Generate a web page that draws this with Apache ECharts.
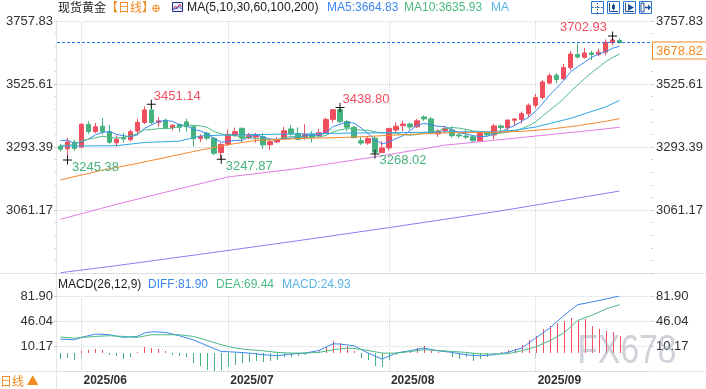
<!DOCTYPE html>
<html><head><meta charset="utf-8">
<script src="https://cdn.jsdelivr.net/npm/echarts@6/dist/echarts.min.js"></script>
<style>html,body{margin:0;padding:0;background:#fff}#c{width:706px;height:389px}</style>
</head><body><div id="c"></div>
<script>
// ---------- data ----------
const dates = [
'2025-05-28','2025-05-29','2025-05-30',
'2025-06-02','2025-06-03','2025-06-04','2025-06-05','2025-06-06','2025-06-09','2025-06-10','2025-06-11','2025-06-12','2025-06-13','2025-06-16','2025-06-17','2025-06-18','2025-06-19','2025-06-20','2025-06-23','2025-06-24','2025-06-25','2025-06-26','2025-06-27','2025-06-30',
'2025-07-01','2025-07-02','2025-07-03','2025-07-04','2025-07-07','2025-07-08','2025-07-09','2025-07-10','2025-07-11','2025-07-14','2025-07-15','2025-07-16','2025-07-17','2025-07-18','2025-07-21','2025-07-22','2025-07-23','2025-07-24','2025-07-25','2025-07-28','2025-07-29','2025-07-30','2025-07-31',
'2025-08-01','2025-08-04','2025-08-05','2025-08-06','2025-08-07','2025-08-08','2025-08-11','2025-08-12','2025-08-13','2025-08-14','2025-08-15','2025-08-18','2025-08-19','2025-08-20','2025-08-21','2025-08-22','2025-08-25','2025-08-26','2025-08-27','2025-08-28','2025-08-29',
'2025-09-01','2025-09-02','2025-09-03','2025-09-04','2025-09-05','2025-09-08','2025-09-09','2025-09-10','2025-09-11','2025-09-12','2025-09-15','2025-09-16','2025-09-17',
'2025-09-18','2025-09-19','2025-09-22','2025-09-23'];

// [open, close, low, high]
const candles = [
[3296,3285,3276,3305],[3287,3312,3245.38,3328],[3311,3288,3279,3320],[3293,3377,3288,3382],[3377,3350,3342,3388],
[3350,3368,3344,3382],[3370,3350,3340,3400],[3350,3311,3305,3374],[3309,3322,3296,3337],[3328,3323,3310,3345],
[3320,3350,3315,3358],[3352,3384,3338,3398],[3384,3430,3378,3443],[3430,3384,3378,3451.14],[3384,3390,3368,3404],
[3392,3364,3360,3398],[3365,3373,3355,3378],[3376,3366,3348,3381],[3386,3368,3350,3398],[3368,3324,3296,3372],
[3325,3332,3312,3340],[3344,3326,3318,3350],[3326,3270,3264,3329],[3273,3303,3247.87,3308],[3303,3340,3298,3358],
[3336,3350,3331,3365],[3362,3326,3312,3366],[3327,3336,3322,3345],[3330,3338,3310,3346],[3331,3301,3287,3345],
[3302,3313,3283,3318],[3312,3320,3308,3330],[3324,3353,3320,3368],[3360,3342,3335,3374],[3343,3322,3318,3366],
[3330,3340,3320,3377],[3340,3330,3310,3352],[3336,3346,3330,3360],[3346,3395,3342,3402],[3395,3431,3383,3433],
[3431,3387,3382,3438.80],[3387,3366,3351,3394],[3366,3328,3325,3372],[3316,3308,3301,3330],[3308,3325,3302,3334],
[3326,3274,3268.02,3334],[3273,3290,3271,3315],[3290,3362,3281,3363],[3356,3370,3346,3385],[3372,3378,3352,3390],
[3378,3367,3358,3384],[3368,3390,3364,3398],[3404,3397,3390,3410],[3397,3345,3340,3405],[3342,3350,3331,3360],
[3354,3362,3345,3370],[3356,3335,3328,3370],[3338,3334,3325,3344],[3334,3330,3323,3358],[3331,3316,3313,3336],
[3316,3345,3312,3350],[3345,3338,3332,3352],[3338,3371,3322,3378],[3371,3365,3352,3376],[3365,3393,3351,3393],
[3392,3397,3374,3399],[3395,3416,3379,3424],[3416,3447,3404,3454],[3447,3476,3436,3489],[3476,3533,3470,3540],
[3529,3556,3525,3565],[3558,3542,3527,3566],[3545,3586,3540,3600],[3586,3636,3577,3646],[3634,3625,3620,3674],
[3624,3640,3620,3658],[3640,3634,3614,3648],[3634,3643,3628,3656],[3643,3679,3631,3690],[3678,3688,3668,3702.93],
[3686,3678.82,3675,3694]];

const ma5 = [3315.8,3319.2,3305.4,3312.4,3322.4,3339.0,3346.6,3351.2,3340.2,3334.8,
3331.2,3338.0,3361.8,3374.2,3387.6,3390.4,3388.2,3375.4,3372.2,3359.0,
3352.6,3343.2,3324.0,3311.0,3314.2,3317.8,3317.8,3331.0,3338.0,3330.2,
3322.8,3321.6,3325.0,3325.8,3330.0,3335.4,3337.4,3336.0,3346.6,3368.4,
3377.8,3385.0,3381.4,3364.0,3342.8,3320.2,3305.0,3311.8,3324.2,3334.8,
3353.4,3373.4,3380.4,3375.4,3369.8,3368.8,3357.8,3345.2,3342.2,3335.4,
3332.0,3332.6,3340.0,3347.0,3362.4,3372.8,3388.4,3403.6,3425.8,3453.8,
3485.6,3510.8,3538.6,3570.6,3589.0,3605.8,3624.2,3635.6,3644.2,3657.2,3664.83];
const ma10 = [3298,3299,3303,3316.1,3322.1,3327.4,3332.9,3328.3,3326.3,3328.6,
3335.1,3342.3,3356.5,3357.2,3361.2,3360.8,3363.1,3368.6,3373.2,3373.3,
3371.5,3365.7,3349.7,3341.6,3336.6,3335.2,3330.5,3327.5,3324.5,3322.2,
3320.3,3319.7,3328.0,3331.9,3330.1,3329.1,3329.5,3330.5,3336.2,3349.2,
3356.6,3361.2,3358.7,3355.3,3355.6,3349.0,3345.0,3346.6,3344.1,3338.8,
3336.8,3339.2,3346.1,3349.8,3352.3,3361.1,3365.6,3362.8,3358.8,3352.6,
3350.4,3345.2,3342.6,3344.6,3348.9,3352.4,3360.5,3371.8,3386.4,3408.1,
3429.2,3449.6,3471.1,3498.2,3521.4,3545.7,3567.5,3587.1,3607.4,3623.1,3635.93];
const ma30 = [[0,3297],[8,3298],[12,3310],[17,3315],[20,3334],[24,3338],[30,3340],[36,3342],[42,3345],[48,3346],[55,3349],[62,3350],[65,3355],[68,3367],[70,3380],[73,3399],[75,3416],[78,3441],[80,3465]];
const ma60 = [[0,3172],[6,3208],[11,3233],[16,3260],[20,3282],[24,3302],[28,3318],[35,3325],[42,3330],[50,3340],[56,3346],[62,3348],[66,3351],[70,3359],[74,3372],[78,3388],[80,3398]];
const ma100 = [[0,3027],[8,3082],[16,3133],[24,3183],[34,3214],[45,3257],[55,3300],[62,3318],[70,3339],[75,3352],[80,3366]];
const ma200 = [[0,2830],[8,2856],[20,2898],[34,2948],[48,3000],[63,3058],[80,3131]];

const macdHist = [-8.6,-7.2,-9.6,3.3,4.8,6.2,4.8,-2.9,-4.8,-8.6,
-5.7,1.4,8.6,7.2,5.7,3.3,-2.4,-3.8,-6.2,-14.3,
-19.1,-23.9,-25.3,-23.9,-20.1,-16.7,-14.8,-12.9,-12.0,-12.9,
-11.0,-10.5,-6.2,-5.7,-3.8,-2.4,1.4,3.3,8.6,16.7,
14.0,10.5,2.4,-7.2,-9.6,-19.1,-20.6,-9.6,-2.4,2.4,
2.4,7.2,10.5,2.4,1.0,0.8,-5.7,-8.6,-6.2,-12.0,
-8.6,-5.7,-2.4,1.0,4.8,6.2,12.0,18.2,24.9,34.4,
39.2,43.0,45.4,50.2,45.4,48.8,39.2,34.4,32.0,29.7,24.93];
const diffLine = [[0,20.1],[2,19.1],[3,22.5],[5,27.3],[7,26.3],[9,22.5],[11,23.9],[12,28.7],[13,30.6],[15,29.7],[17,24.9],[19,19.1],[21,10.5],[23,2.4],[25,1.4],[27,0],[29,-2.4],[31,-3.8],[33,-1.4],[35,0],[37,3.8],[39,13.4],[40,12.9],[42,10.5],[44,0],[46,-8.6],[48,0],[50,3.3],[52,7.2],[54,3.3],[56,1],[58,-2.4],[60,-3.8],[62,-2.4],[64,1],[66,7.2],[68,21.5],[70,35.9],[72,53.6],[74,69.4],[76,73.2],[78,77.5],[80,81.9]];
const deaLine = [[0,23.0],[2,21.5],[5,23.9],[7,24.9],[9,23.9],[11,22.5],[13,26.3],[17,26.3],[19,23.9],[21,18.2],[23,12.0],[25,7.2],[27,4.8],[29,3.3],[31,1.0],[33,0],[35,0],[37,1],[39,4.8],[41,7.2],[42,6.7],[44,3.8],[46,0],[48,0],[50,2.2],[52,4.8],[54,3.8],[56,2.4],[58,1],[60,-1],[62,-1.4],[64,-1],[66,3.3],[68,9],[70,17.7],[72,28.7],[74,46.7],[76,54.0],[78,63.1],[80,69.44]];

const highMarks = [13, 40, 79];
const lowMarks = [1, 23, 45];
const lastPrice = 3678.82;
const priceMin = 2828.95, priceMax = 3757.83, priceInterval = 232.22;
const macdMin = -25.6967, macdMax = 81.9034, macdInterval = 35.8667;
const ma5Label = '3664.83', ma10Label = '3635.93';
const diffLabel = '81.90', deaLabel = '69.44', macdLabel = '24.93';

// ---------- styles ----------
const UP = '#f04d5f', DOWN = '#45b27e';
const C_MA5 = '#3b87f0', C_MA10 = '#4cbb82', C_MA30 = '#2fa6e6', C_MA60 = '#f7882f', C_MA100 = '#e27ce0', C_MA200 = '#8b7df0';
const GRID_C = '#d3d7dd', SEP_C = '#e3e6ea', TXT = '#2e3033';
const NUMF = 'Liberation Sans, Arial, sans-serif';
const CJKF = 'Noto Sans CJK SC, sans-serif';

const isMonthStart = (i) => i > 0 && i < dates.length && dates[i].slice(0,7) !== dates[i-1].slice(0,7);
const fmt2 = v => Number(v).toFixed(2);

const plusPath = 'path://M0,4h9v1h-9z M4,0h1v9h-1z';
const markData = [];
highMarks.forEach(i => {
  const right = i > 70;
  markData.push({coord:[i, candles[i][3]], value: candles[i][3],
    label:{position: right ? [-1,-10] : [7,-10], align: right ? 'right' : 'left', color: UP}});
});
lowMarks.forEach(i => {
  markData.push({coord:[i, candles[i][2]], value: candles[i][2],
    label:{position:[9,5], align:'left', color: DOWN}});
});

function lineSeries(name, data, color, xi, yi) {
  return {name, type:'line', data, xAxisIndex: xi, yAxisIndex: yi, symbol:'none', smooth:false,
    lineStyle:{color, width:1}, itemStyle:{color}, silent:true, z:3};
}

function yAxisDef(grid, pos, min, max, interval, split, minor) {
  return {type:'value', gridIndex:grid, position:pos, min, max, interval, scale:true,
    axisLine:{show:false},
    axisTick:{show:true, length:3, lineStyle:{color:'#c8ccd2'}},
    minorTick:{show:minor, splitNumber:5, length:2, lineStyle:{color:'#c8ccd2'}},
    minorSplitLine:{show:false},
    axisLabel:{formatter: fmt2, showMinLabel:false, color:TXT, fontSize:13, fontFamily:NUMF, margin: pos==='left'?4:5},
    splitLine:{show:split, lineStyle:{type:'dotted', color:GRID_C}}};
}

// ---------- graphics ----------
const G = [];
function text(x, y, t, fill, size, font, extra) {
  G.push(Object.assign({type:'text', x, y, silent:true, style:{text:t, fill, font: size+'px '+font, textVerticalAlign:'middle', textAlign:'left'}}, extra||{}));
}
text(58, 7.5, '现货黄金', '#1a1a1a', 12, CJKF);
text(106, 7.5, '【日线】', '#f28b24', 12, CJKF);
G.push({type:'circle', shape:{cx:156, cy:8.3, r:3.3}, style:{fill:'none', stroke:'#f28b24', lineWidth:1}, silent:true});
G.push({type:'line', shape:{x1:152.5, y1:8.3, x2:159.5, y2:8.3}, style:{stroke:'#f28b24', lineWidth:1}, silent:true});
G.push({type:'line', shape:{x1:156, y1:4.8, x2:156, y2:11.8}, style:{stroke:'#f28b24', lineWidth:1}, silent:true});
G.push({type:'rect', shape:{x:172.5, y:2.5, width:10, height:9}, style:{fill:'#e6eeff', stroke:'#1f2f8f', lineWidth:1}, silent:true});
G.push({type:'polyline', shape:{points:[[173.5,10],[175.5,6],[177.5,8.5],[179.5,4],[181.5,7]]}, style:{stroke:'#e0303a', lineWidth:1, fill:'none'}, silent:true});
G.push({type:'polyline', shape:{points:[[173.5,8],[176,9],[178.5,6],[181.5,9]]}, style:{stroke:'#2b55d8', lineWidth:1, fill:'none'}, silent:true});
text(187, 7.5, 'MA(5,10,30,60,100,200)', '#1a1a1a', 12.2, NUMF);
text(327, 7.5, 'MA5:' + ma5Label, C_MA5, 12, NUMF);
text(404, 7.5, 'MA10:' + ma10Label, C_MA10, 12, NUMF);
text(491, 7.5, 'MA', '#5ab4e8', 12, NUMF);

// top-right icons
const IC = '#2a78d0', IG = '#1d4f9a';
[591, 607, 623, 639].forEach(x => G.push({type:'rect', shape:{x:x+0.5, y:1.5, width:12, height:12}, style:{fill:'#fff', stroke:IC, lineWidth:1}, silent:true}));
G.push({type:'line', shape:{x1:597.5,y1:3,x2:597.5,y2:13}, style:{stroke:IG, lineWidth:1, lineDash:[1.5,1.5]}, silent:true});
G.push({type:'line', shape:{x1:592,y1:7.5,x2:603,y2:7.5}, style:{stroke:IG, lineWidth:1, lineDash:[1.5,1.5]}, silent:true});
G.push({type:'polyline', shape:{points:[[609.5,3],[609.5,11.5],[618,11.5]]}, style:{stroke:IG, lineWidth:1, fill:'none'}, silent:true});
G.push({type:'rect', shape:{x:612, y:5, width:3, height:4}, style:{fill:IG}, silent:true});
G.push({type:'line', shape:{x1:613.5,y1:3.5,x2:613.5,y2:10.5}, style:{stroke:IG, lineWidth:1}, silent:true});
G.push({type:'polyline', shape:{points:[[625.5,3],[625.5,11.5],[634,11.5]]}, style:{stroke:IG, lineWidth:1, fill:'none'}, silent:true});
G.push({type:'polygon', shape:{points:[[628,4],[634,7.5],[628,11]]}, style:{fill:IG}, silent:true});
G.push({type:'rect', shape:{x:641, y:3, width:3, height:9}, style:{fill:'none', stroke:IG, lineWidth:1}, silent:true});
G.push({type:'line', shape:{x1:645,y1:7.5,x2:649,y2:7.5}, style:{stroke:IG, lineWidth:1.5}, silent:true});
G.push({type:'polygon', shape:{points:[[648,4.5],[651,7.5],[648,10.5]]}, style:{fill:IG}, silent:true});

// MACD legend
text(58, 285, 'MACD(26,12,9)', '#1a1a1a', 12, NUMF);
text(148, 285, 'DIFF:' + diffLabel, C_MA5, 12, NUMF);
text(216, 285, 'DEA:' + deaLabel, C_MA10, 12, NUMF);
text(282, 285, 'MACD:' + macdLabel, '#5ab4e8', 12, NUMF);

// separators
G.push({type:'line', shape:{x1:0,y1:273.5,x2:706,y2:273.5}, style:{stroke:SEP_C, lineWidth:1}, silent:true});
G.push({type:'line', shape:{x1:0,y1:371.5,x2:706,y2:371.5}, style:{stroke:SEP_C, lineWidth:1}, silent:true});
G.push({type:'line', shape:{x1:56.5,y1:21,x2:56.5,y2:389}, style:{stroke:SEP_C, lineWidth:1}, silent:true});
text(0, 381.5, '日线 ▲', '#f28b24', 12, CJKF);

// watermark
G.push({type:'text', x:627, y:352, scaleX:0.84, z:100, silent:true,
  style:{text:'FX678', fill:'rgba(160,168,180,0.5)', font:'40px '+NUMF, textAlign:'center', textVerticalAlign:'middle'}});

// ---------- chart ----------
const chart = echarts.init(document.getElementById('c'), null, {renderer:'canvas'});
const xBase = (gi, showLabels) => ({
  type:'category', gridIndex:gi, data:dates, boundaryGap:true,
  axisLine:{show:false},
  axisTick:{show:showLabels, alignWithLabel:true, interval:(i)=>isMonthStart(i), length:5, lineStyle:{color:'#c4c8ce'}},
  axisLabel:{show:showLabels, interval:(i)=>isMonthStart(i), formatter:(v)=>v.slice(0,7).replace('-','/'),
    align:'left', padding:[0,0,0,2], fontWeight:'bold', fontSize:12, color:TXT, fontFamily:NUMF, margin:4},
  splitLine:{show:true, alignWithLabel:true, interval:(i)=>isMonthStart(i), lineStyle:{type:'dotted', color:GRID_C}}
});

chart.setOption({
  animation:false,
  backgroundColor:'#fff',
  textStyle:{fontFamily:NUMF},
  grid:[
    {left:57, width:594, top:21, height:252},
    {left:57, width:594, top:296, height:75}
  ],
  xAxis:[xBase(0,false), xBase(1,true)],
  yAxis:[
    yAxisDef(0,'left',priceMin,priceMax,priceInterval,true,true),
    yAxisDef(0,'right',priceMin,priceMax,priceInterval,false,true),
    yAxisDef(1,'left',macdMin,macdMax,macdInterval,true,false),
    yAxisDef(1,'right',macdMin,macdMax,macdInterval,false,false)
  ],
  series:[
    {type:'candlestick', xAxisIndex:0, yAxisIndex:0, data:candles.map(c=>[c[0],c[1],c[2],c[3]]), barWidth:5,
     itemStyle:{color:UP, color0:DOWN, borderColor:UP, borderColor0:DOWN, borderWidth:1},
     silent:true,
     markPoint:{silent:true, symbol:plusPath, symbolSize:9, itemStyle:{color:'#111'},
       label:{show:true, formatter:(p)=>fmt2(p.value), fontSize:13, fontFamily:NUMF},
       data:markData},
     markLine:{silent:true, symbol:['none','none'], data:[{yAxis:lastPrice}],
       lineStyle:{color:'#1f74e6', type:[3,2], width:1},
       label:{show:true, position:'end', formatter:()=>fmt2(lastPrice), color:'#f5891f', backgroundColor:'#fff',
         borderColor:'#f5891f', borderWidth:1, padding:[2,3,1,3], fontSize:13, fontFamily:NUMF, distance:2,
         align:'left', verticalAlign:'top'}}
    },
    lineSeries('MA5', ma5, C_MA5, 0, 0),
    lineSeries('MA10', ma10, C_MA10, 0, 0),
    lineSeries('MA30', ma30, C_MA30, 0, 0),
    lineSeries('MA60', ma60, C_MA60, 0, 0),
    lineSeries('MA100', ma100, C_MA100, 0, 0),
    lineSeries('MA200', ma200, C_MA200, 0, 0),
    {type:'custom', xAxisIndex:1, yAxisIndex:2, silent:true,
     data: macdHist.map((v,i)=>[i,v]), encode:{x:0, y:1},
     renderItem:(params, api) => {
       const p0 = api.coord([api.value(0), 0]);
       const p1 = api.coord([api.value(0), api.value(1)]);
       const x = Math.round(p0[0]) + 0.5;
       return {type:'line', shape:{x1:x, y1:Math.round(p0[1]), x2:x, y2:Math.round(p1[1])},
         style:{stroke: api.value(1) >= 0 ? UP : DOWN, lineWidth:1}};
     }},
    lineSeries('DIFF', diffLine, C_MA5, 1, 2),
    lineSeries('DEA', deaLine, C_MA10, 1, 2)
  ],
  graphic: G
});
</script></body></html>
